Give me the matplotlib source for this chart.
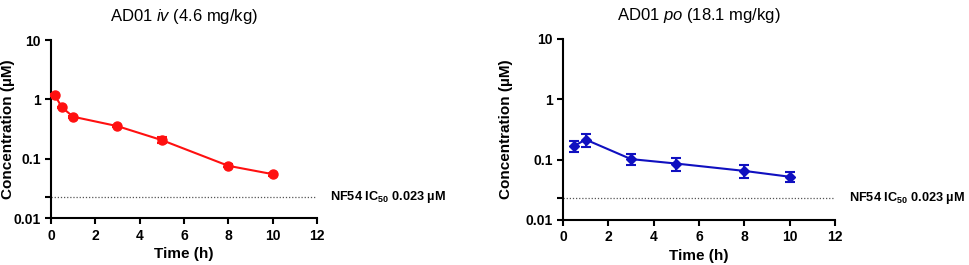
import matplotlib
matplotlib.use("Agg")
import matplotlib.pyplot as plt
from matplotlib.ticker import FixedLocator, NullLocator, FixedFormatter

plt.rcParams['font.family'] = ['Liberation Sans', 'DejaVu Sans']
plt.rcParams['mathtext.fontset'] = 'custom'
plt.rcParams['mathtext.rm'] = 'Liberation Sans'
plt.rcParams['mathtext.it'] = 'Liberation Sans:italic'
plt.rcParams['mathtext.bf'] = 'Liberation Sans:bold'

# Data
iv_time = [0.167, 0.5, 1, 3, 5, 8, 10]
iv_conc = [1.18, 0.73, 0.51, 0.354, 0.206, 0.076, 0.055]
iv_err = [0.03, 0.02, 0.02, 0.015, 0.025, 0.004, 0.003]

po_time = [0.5, 1, 3, 5, 8, 10]
po_conc = [0.169, 0.215, 0.102, 0.086, 0.065, 0.052]
po_err = [0.035, 0.055, 0.022, 0.022, 0.016, 0.0095]

ic50 = 0.023
x_ticks = [0, 2, 4, 6, 8, 10, 12]
y_ticks = [0.01, 0.1, 1, 10]
y_tick_labels = ['0.01', '0.1', '1', '10']

titles = [r'AD01 $\mathit{iv}$ (4.6 mg/kg)', r'AD01 $\mathit{po}$ (18.1 mg/kg)']
ic50_label = r'NF54 IC$_{\mathbf{50}}$ 0.023 µM'

fig = plt.figure(figsize=(9.69, 2.65), dpi=100)
ax1 = fig.add_axes([0.0526, 0.177, 0.2745, 0.672])
ax2 = fig.add_axes([0.581, 0.170, 0.2807, 0.683])

series = [
    (ax1, iv_time, iv_conc, iv_err, '#ff1010', 'o', 6.5, -0.135),
    (ax2, po_time, po_conc, po_err, '#1010c0', 'D', 5.5, -0.184),
]

for i, (ax, t, c, e, col, mk, ms, ylx) in enumerate(series):
    ax.set_yscale('log')
    ax.set_xlim(0, 12)
    ax.set_ylim(0.01, 10)
    ax.errorbar(t, c, yerr=e, color=col, marker=mk, markersize=ms, lw=1.5,
                capsize=3.5, capthick=1.5, elinewidth=1.5, clip_on=False, zorder=3)
    ax.axhline(ic50, xmin=0, xmax=1.0, color='#555555', lw=0.9, ls=(0, (1, 1.5)))
    ax.text(1.05, ic50, ic50_label, transform=ax.get_yaxis_transform(),
            fontsize=9.2, fontweight='bold', va='center', ha='left')
    ax.spines['top'].set_visible(False)
    ax.spines['right'].set_visible(False)
    for s in ('left', 'bottom'):
        ax.spines[s].set_linewidth(1.5)
    ax.xaxis.set_major_locator(FixedLocator(x_ticks))
    ax.yaxis.set_major_locator(FixedLocator(y_ticks))
    ax.yaxis.set_major_formatter(FixedFormatter(y_tick_labels))
    ax.yaxis.set_minor_locator(FixedLocator([ic50]))
    ax.yaxis.set_minor_formatter(FixedFormatter(['']))
    ax.xaxis.set_minor_locator(NullLocator())
    ax.tick_params(axis='both', which='major', width=1.5, length=4, labelsize=10)
    ax.tick_params(axis='y', which='minor', width=1.5, length=4)
    for lab in ax.get_xticklabels() + ax.get_yticklabels():
        lab.set_fontweight('bold')
    ax.set_xlabel('Time (h)', fontsize=11, fontweight='bold', labelpad=3)
    ax.set_ylabel('Concentration (µM)', fontsize=11, fontweight='bold')
    ax.yaxis.set_label_coords(ylx, 0.5)
    ax.set_title(titles[i], fontsize=12, pad=14)

fig.savefig('out.png', dpi=100)
